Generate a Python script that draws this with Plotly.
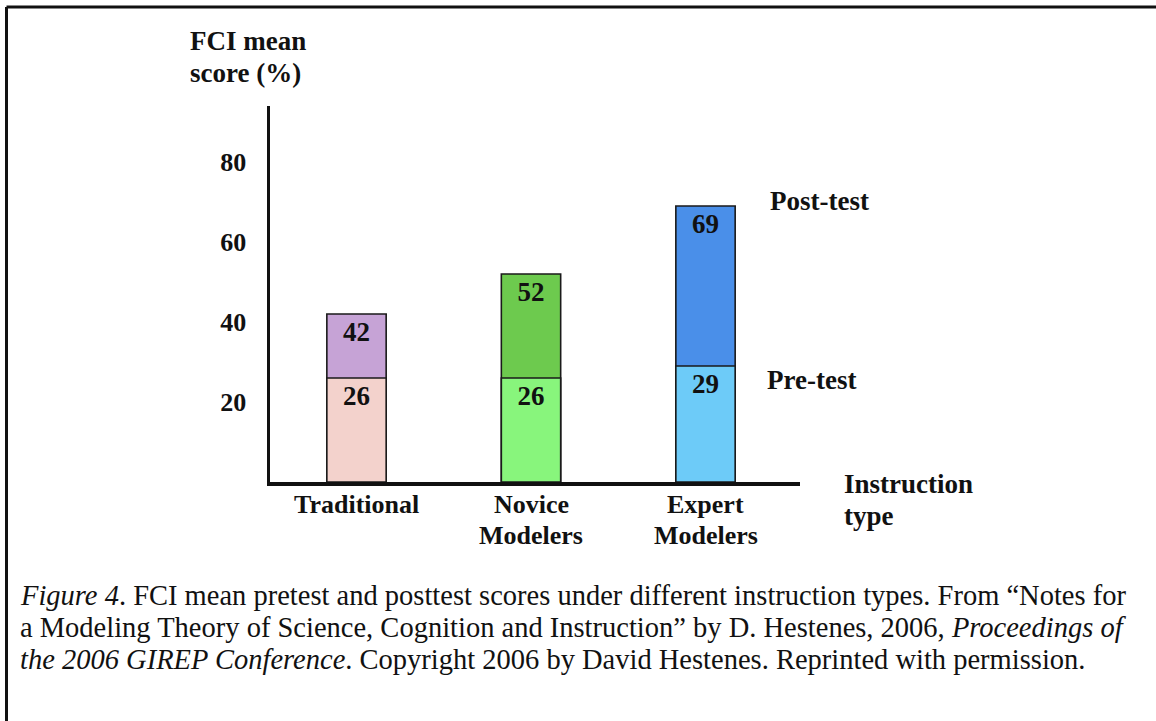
import plotly.graph_objects as go

categories = ["Traditional", "Novice Modelers", "Expert Modelers"]
tick_lines = [["Traditional"], ["Novice", "Modelers"], ["Expert", "Modelers"]]
pretest = [26, 26, 29]
posttest = [42, 52, 69]
pre_colors = ["#F3D2CC", "#88F57C", "#6DCBF8"]
post_colors = ["#C6A3D6", "#6DCA4E", "#4A8FE9"]
y_ticks = [20, 40, 60, 80]
caption_lines = [
    "<i>Figure 4</i>. FCI mean pretest and posttest scores under different instruction types. From \u201cNotes for",
    "a Modeling Theory of Science, Cognition and Instruction\u201d by D. Hestenes, 2006, <i>Proceedings of</i>",
    "<i>the 2006 GIREP Conference</i>. Copyright 2006 by David Hestenes. Reprinted with permission.",
]

W, H = 1156, 721
SERIF = "Liberation Serif"
FS = 27
INK = "#111"

def px_x(p):
    return p / W

def px_y(p):
    return 1 - p / H

def bold(size=FS):
    return dict(family=SERIF, size=size, color=INK, weight="bold")

fig = go.Figure()
fig.add_trace(go.Bar(
    x=categories, y=posttest, name="Post-test",
    marker=dict(color=post_colors, line=dict(color="#1a1a1a", width=1.6)),
    text=posttest, texttemplate="%{text}", textposition="inside",
    insidetextanchor="end", textangle=0, constraintext="none",
    textfont=bold(), width=0.34, showlegend=False, hoverinfo="skip",
))
fig.add_trace(go.Bar(
    x=categories, y=pretest, name="Pre-test",
    marker=dict(color=pre_colors, line=dict(color="#1a1a1a", width=1.6)),
    text=pretest, texttemplate="%{text}", textposition="inside",
    insidetextanchor="end", textangle=0, constraintext="none",
    textfont=bold(), width=0.34, showlegend=False, hoverinfo="skip",
))

fig.update_layout(
    width=W, height=H, autosize=False,
    margin=dict(l=0, r=0, t=0, b=0),
    paper_bgcolor="white", plot_bgcolor="white",
    barmode="overlay",
    xaxis=dict(
        domain=[px_x(270), px_x(800)],
        range=[-0.4957, 2.5415],
        type="category",
        showticklabels=False,
        showline=True, linewidth=3.5, linecolor=INK,
        showgrid=False, zeroline=False, ticks="",
        fixedrange=True,
    ),
    yaxis=dict(
        domain=[px_y(482), px_y(106)],
        range=[0, 94],
        tickmode="array", tickvals=y_ticks,
        showline=True, linewidth=3.5, linecolor=INK,
        showgrid=False, zeroline=False, ticks="",
        ticklabelstandoff=15,
        tickfont=bold(26),
        fixedrange=True,
    ),
)

# category labels, one annotation per line, placed at each category on the x scale
line_y = [504, 535]
for cat, lines in zip(categories, tick_lines):
    for i, ln in enumerate(lines):
        fig.add_annotation(text=ln, xref="x", yref="paper", x=cat, y=px_y(line_y[i]),
                           xanchor="center", yanchor="middle", showarrow=False, font=bold(26))

annots = [
    dict(text="FCI mean", xref="paper", yref="paper", x=px_x(188), y=px_y(41), xanchor="left"),
    dict(text="score (%)", xref="paper", yref="paper", x=px_x(188), y=px_y(73), xanchor="left"),
    dict(text="Post-test", xref="x", yref="y", x=categories[2], y=posttest[2],
         xanchor="left", xshift=62, yshift=5),
    dict(text="Pre-test", xref="x", yref="y", x=categories[2], y=pretest[2],
         xanchor="left", xshift=59, yshift=-14),
    dict(text="Instruction", xref="paper", yref="paper", x=px_x(842), y=px_y(484), xanchor="left"),
    dict(text="type", xref="paper", yref="paper", x=px_x(842), y=px_y(516), xanchor="left"),
]
for a in annots:
    a.update(showarrow=False, yanchor="middle", font=bold())
    fig.add_annotation(**a)

cap_y = [595, 627, 659]
for ln, yy in zip(caption_lines, cap_y):
    fig.add_annotation(text=ln, xref="paper", yref="paper", x=px_x(18), y=px_y(yy),
                       xanchor="left", yanchor="middle", align="left", showarrow=False,
                       font=dict(family=SERIF, size=28.5, color=INK))

# outer frame (top and left edges visible)
fig.add_shape(type="line", xref="paper", yref="paper", x0=px_x(6.5), y0=px_y(7), x1=1.01, y1=px_y(7),
              line=dict(color=INK, width=3))
fig.add_shape(type="line", xref="paper", yref="paper", x0=px_x(6.5), y0=px_y(7), x1=px_x(6.5), y1=-0.01,
              line=dict(color=INK, width=3))

fig.write_html("out.html", config={"displayModeBar": False, "staticPlot": True},
               post_script="document.body.style.margin='0';document.body.style.overflow='hidden';")
